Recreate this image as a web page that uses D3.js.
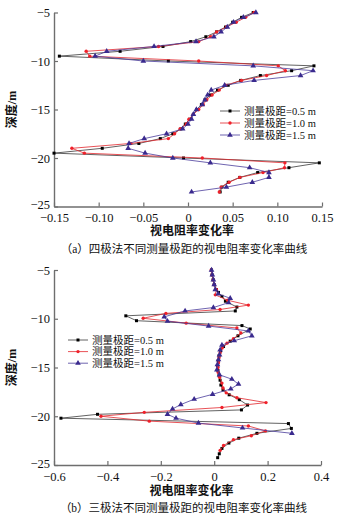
<!DOCTYPE html>
<html><head><meta charset="utf-8">
<script src="https://cdn.jsdelivr.net/npm/d3@7/dist/d3.min.js"></script>
<style>body{margin:0;background:#fff} svg{display:block}</style>
</head><body><svg id="c" width="342" height="520"></svg>
<script>
// ---------- DATA ----------
const seriesNames = ["测量极距=0.5 m", "测量极距=1.0 m", "测量极距=1.5 m"];

// Panel (a) 四极法
const depthA = [-5.0,-5.5,-6.0,-6.5,-7.0,-7.5,-8.0,-8.5,-9.0,-9.5,-10.0,-10.5,-11.0,-11.5,-12.0,-12.5,-13.0,-13.5,-14.0,-14.5,-15.0,-15.5,-16.0,-16.5,-17.0,-17.5,-18.0,-18.5,-19.0,-19.5,-20.0,-20.5,-21.0,-21.5,-22.0,-22.5,-23.0,-23.5];
const valA05 = [0.073,0.060,0.050,0.042,0.032,0.020,0.003,-0.028,-0.076,-0.144,-0.022,0.141,0.116,0.081,0.059,0.045,0.033,0.025,0.019,0.015,0.010,0.006,0.002,-0.003,-0.008,-0.017,-0.031,-0.055,-0.096,-0.150,-0.005,0.147,0.113,0.078,0.058,0.045,0.038,0.036];
const valA10 = [0.074,0.0645,0.054,0.043,0.032,0.025,0.012,-0.033,-0.114,-0.110,0.012,0.101,0.109,0.088,0.060,0.042,0.035,0.027,0.021,0.017,0.012,0.006,0.001,-0.002,-0.009,-0.015,-0.022,-0.064,-0.130,-0.116,0.016,0.1085,0.108,0.084,0.058,0.046,0.037,0.035];
const valA15 = [0.076,0.062,0.051,0.044,0.037,0.029,0.009,-0.038,-0.091,-0.104,-0.050,0.073,0.140,0.126,0.074,0.041,0.026,0.022,0.019,0.016,0.0094,0.006,0.004,0.000,-0.006,-0.024,-0.049,-0.066,-0.067,-0.048,-0.017,0.025,0.069,0.0906,0.0906,0.072,0.043,0.004];
const xTicksA = [-0.15,-0.10,-0.05,0,0.05,0.10,0.15];
const xTickLabelsA = ["−0.15","−0.10","−0.05","0","0.05","0.10","0.15"];

// Panel (b) 三极法
const depthB05 = [-5.0,-5.5,-6.0,-6.5,-7.0,-7.3,-7.7,-8.2,-8.8,-9.2,-9.7,-10.2,-10.7,-11.05,-11.75,-12.3,-12.85,-13.3,-13.8,-14.3,-14.8,-15.3,-15.8,-16.3,-16.8,-17.3,-17.8,-18.3,-18.85,-19.35,-19.8,-20.2,-20.75,-21.25,-21.75,-22.25,-22.75,-23.3,-23.85,-24.25];
const valB05 = [-0.010,-0.008,-0.004,0.000,0.008,0.016,0.029,0.042,0.085,0.079,-0.331,-0.291,0.104,0.135,0.089,0.060,0.035,0.024,0.018,0.015,0.013,0.014,0.018,0.022,0.025,0.033,0.056,0.094,0.125,0.102,-0.437,-0.574,0.278,0.289,0.160,0.092,0.055,0.029,0.019,0.013];
const depthB10 = [-5.0,-5.5,-6.0,-6.5,-7.0,-7.55,-8.1,-8.6,-9.05,-9.45,-9.95,-10.45,-10.95,-11.45,-12.05,-12.5,-13.0,-13.5,-14.0,-14.5,-15.0,-15.5,-16.0,-16.6,-17.1,-17.6,-18.1,-18.6,-19.1,-19.6,-20.0,-20.5,-21.0,-21.5,-22.0,-22.4,-23.0,-23.5];
const valB10 = [-0.011,-0.008,-0.004,0.000,0.008,0.004,0.050,0.128,0.022,-0.181,-0.266,-0.105,0.085,0.100,0.072,0.048,0.030,0.022,0.018,0.016,0.014,0.015,0.020,0.029,0.033,0.045,0.085,0.194,0.029,-0.262,-0.424,-0.243,0.128,0.192,0.139,0.072,0.035,0.022];
const depthB15 = [-5.0,-5.5,-6.0,-6.5,-7.0,-7.45,-7.9,-8.35,-8.85,-9.2,-9.8,-10.25,-10.75,-11.25,-11.75,-12.25,-12.7,-13.2,-13.7,-14.2,-14.7,-15.25,-15.75,-16.2,-16.7,-17.2,-17.75,-18.25,-18.8,-19.25,-19.8,-20.2,-20.7,-21.2,-21.75];
const valB15 = [-0.010,-0.007,-0.003,0.000,0.004,0.015,0.060,0.054,-0.003,-0.109,-0.187,-0.175,-0.021,0.128,0.141,0.075,0.029,0.022,0.020,0.016,0.012,0.010,0.020,0.066,0.091,0.062,-0.006,-0.075,-0.125,-0.156,-0.175,-0.143,-0.059,0.106,0.291];
const xTicksB = [-0.6,-0.4,-0.2,0,0.2,0.4];
const xTickLabelsB = ["−0.6","−0.4","−0.2","0","0.2","0.4"];

const yTicks = [-5,-10,-15,-20,-25];
const yTickLabels = ["−5","−10","−15","−20","−25"];
const xTitle = "视电阻率变化率";
const yTitle = "深度/m";
const captionA = "（a）四极法不同测量极距的视电阻率变化率曲线";
const captionB = "（b）三极法不同测量极距的视电阻率变化率曲线";

// ---------- STYLE ----------
const lineColors = ["#3a3a3a", "#e2262c", "#4a3c9c"];
const markColors = ["#000000", "#f0202a", "#3a2a8e"];
const markShapes = [d3.symbolSquare, d3.symbolCircle, d3.symbolTriangle];
const markSizes = [9, 9, 14];
const serif = "'Liberation Serif','Times New Roman','Noto Sans CJK SC',serif";
const cjk = "'Liberation Serif','Noto Sans CJK SC',serif";

const svg = d3.select("#c");
svg.append("rect").attr("width",342).attr("height",520).attr("fill","#fff");

function panel(cfg) {
  const x = d3.scaleLinear().domain(cfg.xDomain).range(cfg.xRange);
  const y = d3.scaleLinear().domain([-25,-5]).range(cfg.yRange);
  const g = svg.append("g");

  // axes
  const ax = g.append("g").attr("transform",`translate(0,${cfg.yRange[0]})`)
    .call(d3.axisBottom(x).tickValues(cfg.xTicks).tickFormat((d,i)=>cfg.xLabels[i])
      .tickSizeInner(-4).tickSizeOuter(0).tickPadding(7));
  const ay = g.append("g").attr("transform",`translate(${cfg.xRange[0]},0)`)
    .call(d3.axisLeft(y).tickValues(yTicks).tickFormat((d,i)=>yTickLabels[i])
      .tickSizeInner(-4).tickSizeOuter(0).tickPadding(4));
  [ax, ay].forEach(a => {
    a.select(".domain").attr("stroke","#6e6e6e").attr("stroke-width",1.4);
    a.selectAll(".tick line").attr("stroke","#6e6e6e").attr("stroke-width",1.2);
    a.selectAll(".tick text").attr("font-family",serif).attr("font-size",12.5).attr("fill","#111");
  });
  // lift the lowest depth label slightly so it clears the x tick labels
  ay.selectAll(".tick text").filter(d => d === -25).attr("y", -2);

  // series
  cfg.series.forEach((s, i) => {
    const pts = s.depth.map((d, k) => ({d, v: s.val[k]}));
    g.append("path").datum(pts)
      .attr("d", d3.line().x(p => x(p.v)).y(p => y(p.d)))
      .attr("fill","none").attr("stroke", lineColors[i]).attr("stroke-width",0.8);
    g.selectAll(null).data(pts).enter().append("path")
      .attr("d", d3.symbol().type(markShapes[i]).size(markSizes[i]))
      .attr("transform", p => `translate(${x(p.v)},${y(p.d)})`)
      .attr("fill", markColors[i]);
  });

  // legend
  seriesNames.forEach((n, i) => {
    const ly = cfg.legend.y + i * cfg.legend.dy;
    g.append("line").attr("x1",cfg.legend.x).attr("x2",cfg.legend.x+20)
      .attr("y1",ly).attr("y2",ly).attr("stroke",lineColors[i]).attr("stroke-width",0.8);
    g.append("path").attr("d", d3.symbol().type(markShapes[i]).size(markSizes[i]))
      .attr("transform",`translate(${cfg.legend.x+10},${ly})`).attr("fill",markColors[i]);
    g.append("text").attr("x",cfg.legend.x+24).attr("y",ly).attr("dy","0.35em")
      .attr("font-family",cjk).attr("font-size",10.5).attr("fill","#111").text(n);
  });

  // titles
  const cx = (cfg.xRange[0]+cfg.xRange[1])/2;
  g.append("text").attr("x",cx+4).attr("y",cfg.xTitleY).attr("text-anchor","middle")
    .attr("font-family",cjk).attr("font-size",12).attr("font-weight","bold").attr("fill","#111").text(xTitle);
  g.append("text").attr("x",cx-4).attr("y",cfg.captionY).attr("text-anchor","middle")
    .attr("font-family",cjk).attr("font-size",11.5).attr("fill","#111").text(cfg.caption);
  const cy = (cfg.yRange[0]+cfg.yRange[1])/2;
  g.append("text").attr("transform",`translate(16,${cy}) rotate(-90)`).attr("text-anchor","middle")
    .attr("font-family",cjk).attr("font-size",12).attr("font-weight","bold").attr("fill","#111").text(yTitle);
}

panel({
  xDomain: [-0.15, 0.15], xRange: [54, 322], yRange: [206.5, 12.5],
  xTicks: xTicksA, xLabels: xTickLabelsA,
  series: [{depth: depthA, val: valA05},{depth: depthA, val: valA10},{depth: depthA, val: valA15}],
  legend: {x: 220, y: 111, dy: 12},
  xTitleY: 235, captionY: 253, caption: captionA
});
panel({
  xDomain: [-0.6, 0.4], xRange: [54, 321], yRange: [465, 270],
  xTicks: xTicksB, xLabels: xTickLabelsB,
  series: [{depth: depthB05, val: valB05},{depth: depthB10, val: valB10},{depth: depthB15, val: valB15}],
  legend: {x: 68, y: 340, dy: 11.6},
  xTitleY: 495, captionY: 512, caption: captionB
});
</script></body></html>
